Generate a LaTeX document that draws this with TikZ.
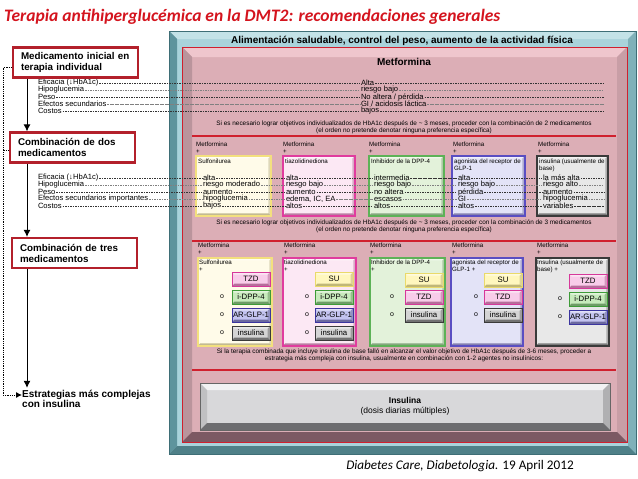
\documentclass[tikz,border=0pt]{standalone}
\usepackage{fontspec}
\setmainfont{Liberation Sans}
\newfontfamily\carl{Carlito}
\usetikzlibrary{arrows.meta}

\definecolor{titred}{HTML}{D4141E}
\definecolor{boxred}{HTML}{B3202B}
\definecolor{sepred}{HTML}{D0202E}
% marco azul
\definecolor{tealface}{HTML}{A9D3DB}
\definecolor{tealtop}{HTML}{C3E2E7}
\definecolor{tealleft}{HTML}{5E949D}
\definecolor{tealright}{HTML}{80B1B9}
\definecolor{tealbot}{HTML}{4F8088}
\definecolor{tealedge}{HTML}{3E6E76}
% caja rosa
\definecolor{pinkface}{HTML}{DCAEB6}
\definecolor{pinktop}{HTML}{EFC6CD}
\definecolor{pinkleft}{HTML}{BA949C}
\definecolor{pinkright}{HTML}{C89EA6}
\definecolor{pinkbot}{HTML}{7C5963}
% caja insulina
\definecolor{insface}{HTML}{D8D8DA}
\definecolor{instop}{HTML}{F2F2F3}
\definecolor{insleft}{HTML}{C0C0C2}
\definecolor{insright}{HTML}{B0B0B2}
\definecolor{insbot}{HTML}{6D6D70}
% columnas
\definecolor{ylwline}{HTML}{F3E07E}
\definecolor{ylwfill}{HTML}{FFFBE9}
\definecolor{pnkline}{HTML}{E03C9E}
\definecolor{pnkfill}{HTML}{FCE8F4}
\definecolor{grnline}{HTML}{5DB257}
\definecolor{grnfill}{HTML}{E3F2DA}
\definecolor{purline}{HTML}{5A4EC2}
\definecolor{purfill}{HTML}{E3E3F7}
\definecolor{gryline}{HTML}{3A3A3A}
\definecolor{gryfill}{HTML}{E8E8E8}
% botones
\definecolor{suline}{HTML}{EADA6A}
\definecolor{sufill}{HTML}{FFF7BE}
\definecolor{tzdline}{HTML}{D6389A}
\definecolor{tzdfill}{HTML}{F8CCE9}
\definecolor{dppline}{HTML}{3E9B38}
\definecolor{dppfill}{HTML}{C7EABC}
\definecolor{glpline}{HTML}{3B359F}
\definecolor{glpfill}{HTML}{C3C3EF}
\definecolor{insline}{HTML}{3A3A3A}
\definecolor{insfill}{HTML}{D4D4D4}

% x1 y1 x2 y2 depth top left right bottom
\newcommand{\bevbox}[9]{%
  \fill[#6] (#1,#2) -- (#3,#2) -- ({#3-#5},{#2+#5}) -- ({#1+#5},{#2+#5}) -- cycle;
  \fill[#7] (#1,#2) -- ({#1+#5},{#2+#5}) -- ({#1+#5},{#4-#5}) -- (#1,#4) -- cycle;
  \fill[#8] (#3,#2) -- (#3,#4) -- ({#3-#5},{#4-#5}) -- ({#3-#5},{#2+#5}) -- cycle;
  \fill[#9] (#1,#4) -- (#3,#4) -- ({#3-#5},{#4-#5}) -- ({#1+#5},{#4-#5}) -- cycle;
}

\begin{document}
\begin{tikzpicture}[x=1pt, y=-1pt,
    ttl/.style = {inner sep=0pt, text=titred, font=\carl\bfseries\itshape\fontsize{17.5}{20}\selectfont},
    cite/.style = {inner sep=0pt, font=\carl\fontsize{13.2}{15}\selectfont},
    hdr/.style = {inner sep=0pt, font=\bfseries\fontsize{10}{11}\selectfont},
    stage/.style = {draw=boxred, line width=2.2pt, fill=white, minimum width=125pt, minimum height=30pt, text width=109pt, align=left, inner sep=0pt, font=\bfseries\fontsize{9.8}{11}\selectfont},
    lab/.style = {anchor=west, inner sep=0.8pt, font=\fontsize{7.6}{7.6}\selectfont},
    note/.style = {align=center, inner sep=0pt, font=\fontsize{6.4}{7}\selectfont},
    tiny/.style = {anchor=north west, align=left, inner sep=0pt, font=\fontsize{6.2}{6.4}\selectfont},
    bev/.style = {path picture={
        \fill[#1!60!black, opacity=.55] (path picture bounding box.south west) -- (path picture bounding box.south east) -- ([shift={(-2.5pt,2.5pt)}]path picture bounding box.south east) -- ([shift={(2.5pt,2.5pt)}]path picture bounding box.south west) -- cycle;
        \fill[#1!60!black, opacity=.3] (path picture bounding box.south east) -- (path picture bounding box.north east) -- ([shift={(-2.5pt,-2.5pt)}]path picture bounding box.north east) -- ([shift={(-2.5pt,2.5pt)}]path picture bounding box.south east) -- cycle;
        \fill[white, opacity=.5] (path picture bounding box.north west) -- (path picture bounding box.north east) -- ([shift={(-2.5pt,-2.5pt)}]path picture bounding box.north east) -- ([shift={(2.5pt,-2.5pt)}]path picture bounding box.north west) -- cycle;}},
    colbox/.style = {draw=#1line, fill=#1fill, line width=1.6pt, anchor=north west, inner sep=0pt, bev=#1line},
    pill/.style = {draw=#1line, fill=#1fill, line width=0.9pt, minimum width=38pt, minimum height=14pt, inner sep=0pt, font=\fontsize{7.8}{8}\selectfont, bev=#1line},
    orr/.style = {inner sep=0pt, font=\fontsize{7}{7}\selectfont},
    dl/.style = {draw=black!80, line width=0.5pt, dash pattern=on 1.6pt off 0.9pt},
    dl2/.style = {dl, draw=black!50},
    sep/.style = {draw=sepred, line width=1.2pt},
    flow/.style = {line width=1pt, -{Latex[length=7pt,width=7pt]}},
    dotline/.style = {line width=0.9pt, dash pattern=on 0.9pt off 0.9pt},
    est/.style = {anchor=west, align=left, inner sep=0pt, font=\bfseries\fontsize{10}{10.5}\selectfont}]

    \useasboundingbox (0,0) rectangle (638,479);

    \node[ttl] (title) [anchor=west] at (4,17) {Terapia antihiperglucémica en la DMT2: recomendaciones generales};

    % marcos
    \fill[tealface] (169,31) rectangle (636,454);
    \bevbox{169}{31}{636}{454}{8}{tealtop}{tealleft}{tealright}{tealbot}
    \draw[tealedge, line width=0.6pt] (169,31) rectangle (636,454);
    \fill[pinkface] (182,47) rectangle (627,442);
    \bevbox{182}{47}{627}{442}{10}{pinktop}{pinkleft}{pinkright}{pinkbot}
    \draw[sepred, line width=1pt] (182,47) rectangle (627,442);

    \node[hdr] (alim) at (402,41) {Alimentación saludable, control del peso, aumento de la actividad física};
    \node[hdr] (met) at (404,62) {Metformina};

    \coordinate (rend) at (604,0);
    \coordinate (xl) at (27,0);
    \coordinate (xd) at (3,0);

    % monoterapia
    \node[lab] (L1) at (37,83) {Eficacia (↓HbA1c)};
    \node[lab] (L2) at (37,90) {Hipoglucemia};
    \node[lab] (L3) at (37,97) {Peso};
    \node[lab] (L4) at (37,104) {Efectos secundarios};
    \node[lab] (L5) at (37,111) {Costos};
    \node[lab] (v1) at (360,83) {Alta};
    \node[lab] (v2) at (360,90) {riesgo bajo};
    \node[lab] (v3) at (360,97) {No altera / pérdida};
    \node[lab] (v4) at (360,104) {GI / acidosis láctica};
    \node[lab] (v5) at (360,111) {bajos};

    \draw[dl] (L1.east) -- (v1.west) (v1.east) -- (v1.east -| rend);
    \draw[dl2] (L2.east) -- (v2.west) (v2.east) -- (v2.east -| rend);
    \draw[dl] (L3.east) -- (v3.west) (v3.east) -- (v3.east -| rend);
    \draw[dl2] (L4.east) -- (v4.west) (v4.east) -- (v4.east -| rend);
    \draw[dl] (L5.east) -- (v5.west) (v5.east) -- (v5.east -| rend);

    \node[note] (n1) at (404,127) {Si es necesario lograr objetivos individualizados de HbA1c después de \textasciitilde{} 3 meses, proceder con la combinación de 2 medicamentos\\(el orden no pretende denotar ninguna preferencia específica)};
    \draw[sep] (192,136) -- (616,136);

    % dos medicamentos
    \node[tiny] (m21) at (196,142) {Metformina\\+};
    \node[tiny] (m22) at (283,142) {Metformina\\+};
    \node[tiny] (m23) at (369,142) {Metformina\\+};
    \node[tiny] (m24) at (453,142) {Metformina\\+};
    \node[tiny] (m25) at (538,142) {Metformina\\+};
    \node[colbox=ylw] (b21) [minimum width=75pt, minimum height=60pt] at (195,155) {};
    \node[colbox=pnk] (b22) [minimum width=72pt, minimum height=60pt] at (282,155) {};
    \node[colbox=grn] (b23) [minimum width=75pt, minimum height=60pt] at (368,155) {};
    \node[colbox=pur] (b24) [minimum width=73pt, minimum height=60pt] at (451,155) {};
    \node[colbox=gry] (b25) [minimum width=71pt, minimum height=60pt] at (536,155) {};
    \node[tiny] (h21) at (198,159) {Sulfonilurea};
    \node[tiny] (h22) at (285,159) {tiazolidinediona};
    \node[tiny] (h23) at (371,159) {Inhibidor de la DPP-4};
    \node[tiny] (h24) at (454,159) {agonista del receptor de\\GLP-1};
    \node[tiny] (h25) at (539,159) {insulina (usualmente de\\base)};

    \node[lab] (M1) at (37,178) {Eficacia (↓HbA1c)};
    \node[lab] (M2) at (37,185) {Hipoglucemia};
    \node[lab] (M3) at (37,192) {Peso};
    \node[lab] (M4) at (37,199) {Efectos secundarios importantes};
    \node[lab] (M5) at (37,206) {Costos};

    \node[lab] (a1) at (202,178) {alta};
    \node[lab] (a2) at (202,185) {riesgo moderado};
    \node[lab] (a3) at (202,192) {aumento};
    \node[lab] (a4) at (202,199) {hipoglucemia};
    \node[lab] (a5) at (202,206) {bajos};
    \node[lab] (b1) at (285,178) {alta};
    \node[lab] (b2) at (285,185) {riesgo bajo};
    \node[lab] (b3) at (285,192) {aumento};
    \node[lab] (b4) at (285,199) {edema, IC, EA};
    \node[lab] (b5) at (285,206) {altos};
    \node[lab] (c1) at (373,178) {intermedia};
    \node[lab] (c2) at (373,185) {riesgo bajo};
    \node[lab] (c3) at (373,192) {no altera};
    \node[lab] (c4) at (373,199) {escasos};
    \node[lab] (c5) at (373,206) {altos};
    \node[lab] (d1) at (457,178) {alta};
    \node[lab] (d2) at (457,185) {riesgo bajo};
    \node[lab] (d3) at (457,192) {pérdida};
    \node[lab] (d4) at (457,199) {GI};
    \node[lab] (d5) at (457,206) {altos};
    \node[lab] (e1) at (542,178) {la más alta};
    \node[lab] (e2) at (542,185) {riesgo alto};
    \node[lab] (e3) at (542,192) {aumento};
    \node[lab] (e4) at (542,199) {hipoglucemia};
    \node[lab] (e5) at (542,206) {variables};

    \draw[dl] (M1.east) -- (a1.west) (a1.east) -- (b1.west) (b1.east) -- (c1.west) (c1.east) -- (d1.west) (d1.east) -- (e1.west) (e1.east) -- (e1.east -| rend);
    \draw[dl2] (M2.east) -- (a2.west) (a2.east) -- (b2.west) (b2.east) -- (c2.west) (c2.east) -- (d2.west) (d2.east) -- (e2.west) (e2.east) -- (e2.east -| rend);
    \draw[dl] (M3.east) -- (a3.west) (a3.east) -- (b3.west) (b3.east) -- (c3.west) (c3.east) -- (d3.west) (d3.east) -- (e3.west) (e3.east) -- (e3.east -| rend);
    \draw[dl2] (M4.east) -- (a4.west) (a4.east) -- (b4.west) (b4.east) -- (c4.west) (c4.east) -- (d4.west) (d4.east) -- (e4.west) (e4.east) -- (e4.east -| rend);
    \draw[dl] (M5.east) -- (a5.west) (a5.east) -- (b5.west) (b5.east) -- (c5.west) (c5.east) -- (d5.west) (d5.east) -- (e5.west) (e5.east) -- (e5.east -| rend);

    \node[note] (n2) at (404,226.5) {Si es necesario lograr objetivos individualizados de HbA1c después de \textasciitilde{} 3 meses, proceder con la combinación de 3 medicamentos\\(el orden no pretende denotar ninguna preferencia específica)};
    \draw[sep] (192,241) -- (616,241);

    % tres medicamentos
    \node[tiny] (m31) at (198,243) {Metformina\\+};
    \node[tiny] (m32) at (284,243) {Metformina\\+};
    \node[tiny] (m33) at (370,243) {Metformina\\+};
    \node[tiny] (m34) at (452,243) {Metformina\\+};
    \node[tiny] (m35) at (537,243) {Metformina\\+};
    \node[colbox=ylw] (b31) [minimum width=74pt, minimum height=88pt] at (197,257) {};
    \node[colbox=pnk] (b32) [minimum width=73pt, minimum height=88pt] at (282,257) {};
    \node[colbox=grn] (b33) [minimum width=75pt, minimum height=88pt] at (369,257) {};
    \node[colbox=pur] (b34) [minimum width=72pt, minimum height=88pt] at (450,257) {};
    \node[colbox=gry] (b35) [minimum width=73pt, minimum height=88pt] at (535,257) {};
    \node[tiny] (h31) at (199,260) {Sulfonilurea\\+};
    \node[tiny] (h32) at (284,260) {tiazolidinediona\\+};
    \node[tiny] (h33) at (371,260) {Inhibidor de la DPP-4\\+};
    \node[tiny] (h34) at (452,260) {agonista del receptor de\\GLP-1 +};
    \node[tiny] (h35) at (537,260) {Insulina (usualmente de\\base) +};

    \node[pill=tzd] (q11) at (251,279) {TZD};
    \node[pill=dpp] (q12) at (251,297) {i-DPP-4};
    \node[pill=glp] (q13) at (251,315) {AR-GLP-1};
    \node[pill=ins] (q14) at (251,333) {insulina};
    \node[orr] (o12) at (222,297) {o};
    \node[orr] (o13) at (222,315) {o};
    \node[orr] (o14) at (222,333) {o};

    \node[pill=su] (q21) at (334,279) {SU};
    \node[pill=dpp] (q22) at (334,297) {i-DPP-4};
    \node[pill=glp] (q23) at (334,315) {AR-GLP-1};
    \node[pill=ins] (q24) at (334,333) {insulina};
    \node[orr] (o22) at (307,297) {o};
    \node[orr] (o23) at (307,315) {o};
    \node[orr] (o24) at (307,333) {o};

    \node[pill=su] (q31) at (424,280) {SU};
    \node[pill=tzd] (q32) at (424,297) {TZD};
    \node[pill=ins] (q33) at (424,315) {insulina};
    \node[orr] (o32) at (392,297) {o};
    \node[orr] (o33) at (392,315) {o};

    \node[pill=su] (q41) at (503,280) {SU};
    \node[pill=tzd] (q42) at (503,297) {TZD};
    \node[pill=ins] (q43) at (503,315) {insulina};
    \node[orr] (o42) at (476,297) {o};
    \node[orr] (o43) at (476,315) {o};

    \node[pill=tzd] (q51) at (588,281) {TZD};
    \node[pill=dpp] (q52) at (588,299) {i-DPP-4};
    \node[pill=glp] (q53) at (588,317) {AR-GLP-1};
    \node[orr] (o52) at (560,299) {o};
    \node[orr] (o53) at (560,317) {o};

    \node[note] (n3) at (404,355.5) {Si la terapia combinada que incluye insulina de base falló en alcanzar el valor objetivo de HbA1c después de 3-6 meses, proceder a\\estrategia más compleja con insulina, usualmente en combinación con 1-2 agentes no insulínicos:};
    \draw[sep] (192,370) -- (616,370);

    % insulina
    \fill[insface] (200,383) rectangle (610,430);
    \bevbox{200}{383}{610}{430}{7}{instop}{insleft}{insright}{insbot}
    \draw[black!60, line width=0.5pt] (200,383) rectangle (610,430);
    \node[note] (ins) [font=\fontsize{8.5}{10}\selectfont] at (405,406.5) {\textbf{Insulina}\\(dosis diarias múltiples)};

    % pasos
    \node[stage] (ini) at (75.5,62.5) {Medicamento inicial en\\terapia individual};
    \node[stage] (dos) at (72.5,147.5) {Combinación de dos\\medicamentos};
    \node[stage] (tres) at (74.5,253) {Combinación de tres\\medicamentos};
    \node[est] (est) at (22,399) {Estrategias más complejas\\con insulina};

    \draw[flow] (ini.south -| xl) -- (dos.north -| xl);
    \draw[flow] (dos.south -| xl) -- (tres.north -| xl);
    \draw[flow] (tres.south -| xl) -- ([yshift=2pt]est.north -| xl);
    \draw[dotline] ([yshift=-5pt]ini.west) -- ([yshift=-5pt]ini.west -| xd) -- ([yshift=4pt]est.west -| xd);
    \draw[dotline, -{Latex[length=6pt,width=6pt]}] ([yshift=4pt]est.west -| xd) -- ([yshift=4pt]est.west);
    \draw[dotline] ([yshift=-3pt]dos.west) -- ([yshift=-3pt]dos.west -| xd);

    \node[cite] (ref) at (460,466) {\textit{Diabetes Care, Diabetologia.} 19 April 2012};

\end{tikzpicture}
\end{document}
